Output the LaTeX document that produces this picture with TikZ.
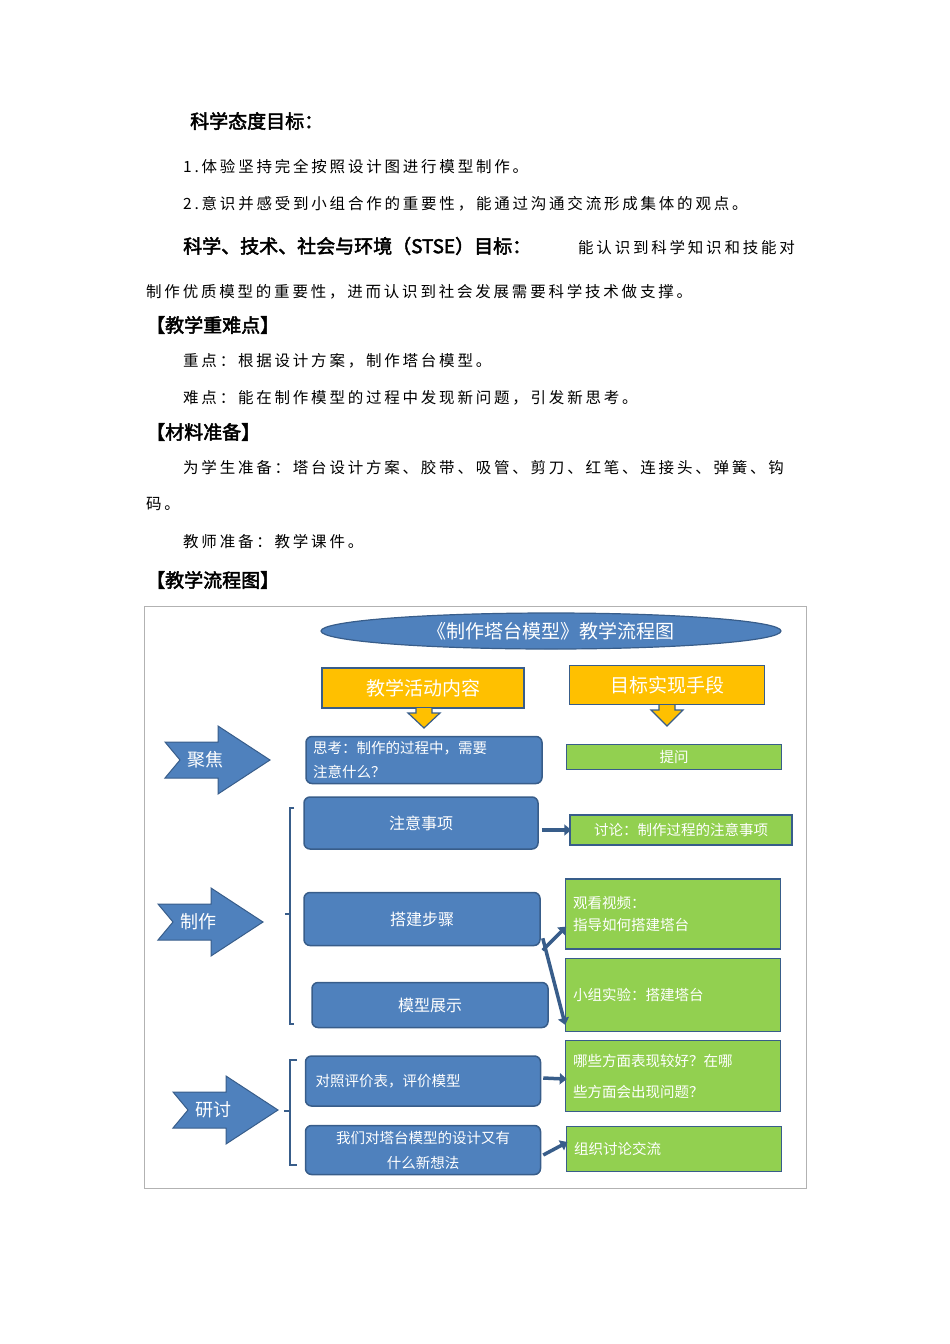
\documentclass[tikz,border=0pt]{standalone}
\usepackage{fontspec}
\setmainfont{Noto Sans CJK SC}[AutoFakeBold=2]
\newfontfamily\bodyf{Noto Sans CJK SC}[LetterSpace=18]
\newfontfamily\headf{Noto Sans CJK SC}[AutoFakeBold=2.5]
\usetikzlibrary{arrows.meta,shapes.geometric}
\definecolor{bblue}{HTML}{4F81BD}
\definecolor{bedge}{HTML}{385D8A}
\definecolor{gfill}{HTML}{92D050}
\definecolor{yfill}{HTML}{FFC000}
\tikzset{
 body/.style={anchor=west,inner sep=0pt,font=\fontsize{15.5}{18}\bodyf},
 head/.style={anchor=west,inner sep=0pt,font=\fontsize{19}{22}\headf\bfseries},
 bbox/.style={draw=bedge,line width=1.5pt,fill=bblue,rounded corners=6pt,text=white,font=\fontsize{16}{22}\selectfont},
 gbox/.style={draw=bedge,line width=1.5pt,fill=gfill,text=white,font=\fontsize{14.5}{20}\selectfont},
 ybox/.style={draw=bedge,line width=1.2pt,fill=yfill,text=white,font=\fontsize{19}{22}\selectfont},
 bigarr/.style={draw=bedge,line width=1pt,fill=bblue},
 smarr/.style={draw=bedge,line width=3.5pt,-{Triangle[length=7pt,width=11pt]},shorten >=-2pt},
 brack/.style={draw=bedge,line width=1.2pt},
 alabel/.style={text=white,font=\fontsize{18}{20}\selectfont}
}
\newcommand{\bigarrow}[3]{%
 \path[bigarr] (#1-50,#2-18) -- (#1-35,#2) -- (#1-50,#2+18) -- (#1+3,#2+18) -- (#1+3,#2+34) -- (#1+55,#2) -- (#1+3,#2-34) -- (#1+3,#2-18) -- cycle;
 \node[alabel] (#3) at (#1-10,#2) {#3};}
\begin{document}
\begin{tikzpicture}[x=1pt,y=-1pt]
\useasboundingbox (0,0) rectangle (950,1344);
% text
\node[head] (h1) at (190,121) {科学态度目标：};
\node[body] (t1) at (183,167) {1.体验坚持完全按照设计图进行模型制作。};
\node[body] (t2) at (183,204) {2.意识并感受到小组合作的重要性，能通过沟通交流形成集体的观点。};
\node[head] (h2) at (183,246) {科学、技术、社会与环境（STSE）目标：};
\node[body] (t3) at (578,248) {能认识到科学知识和技能对};
\node[body] (t4) at (146,292) {制作优质模型的重要性，进而认识到社会发展需要科学技术做支撑。};
\node[head] (h3) at (146,325) {【教学重难点】};
\node[body] (t5) at (183,361) {重点：根据设计方案，制作塔台模型。};
\node[body] (t6) at (183,398) {难点：能在制作模型的过程中发现新问题，引发新思考。};
\node[head] (h4) at (146,432) {【材料准备】};
\node[body] (t7) at (183,468) {为学生准备：塔台设计方案、胶带、吸管、剪刀、红笔、连接头、弹簧、钩};
\node[body] (t8) at (146,504) {码。};
\node[body] (t9) at (183,542) {教师准备：教学课件。};
\node[head] (h5) at (146,580) {【教学流程图】};
% frame
\draw[gray!60,line width=0.8pt] (144,606) rectangle (806,1188);
% title ellipse
\node[ellipse,draw=bedge,line width=1.2pt,fill=bblue,minimum width=460,minimum height=36,inner sep=0,text=white,font=\fontsize{19}{22}\selectfont] (title) at (551,631) {《制作塔台模型》教学流程图};
% yellow
\node[ybox,minimum width=202,minimum height=40] (y1) at (423,688) {教学活动内容};
\node[ybox,minimum width=195,minimum height=39] (y2) at (667,685) {目标实现手段};
\path[draw=bedge,line width=1.2pt,fill=yfill] (416,708) -- (416,713) -- (408,713) -- (424,728) -- (440,713) -- (432,713) -- (432,708);
\path[draw=bedge,line width=1.2pt,fill=yfill] (659,705) -- (659,710) -- (651,710) -- (667,726) -- (683,710) -- (675,710) -- (675,705);
% big arrows
\bigarrow{215}{760}{聚焦}
\bigarrow{208}{922}{制作}
\bigarrow{223}{1110}{研讨}
% blue boxes
\node[bbox,minimum width=236,minimum height=47,align=left,text width=222,font=\fontsize{14.5}{24}\selectfont] (b1) at (424,760) {思考：制作的过程中，需要\\注意什么？};
\node[bbox,minimum width=234,minimum height=52] (b2) at (421,823) {注意事项};
\node[bbox,minimum width=236,minimum height=53] (b3) at (422,919) {搭建步骤};
\node[bbox,minimum width=236,minimum height=45] (b4) at (430,1005) {模型展示};
\node[bbox,minimum width=235,minimum height=50,align=left,text width=215,font=\fontsize{14.5}{20}\selectfont] (b5) at (423,1081) {对照评价表，评价模型};
\node[bbox,minimum width=235,minimum height=49,align=center,font=\fontsize{14.5}{25}\selectfont] (b6) at (423,1150) {我们对塔台模型的设计又有\\什么新想法};
% green boxes
\node[gbox,minimum width=215,minimum height=25] (g1) at (674,757) {提问};
\node[gbox,minimum width=222,minimum height=30] (g2) at (681,830) {讨论：制作过程的注意事项};
\node[gbox,minimum width=215,minimum height=70,align=left,text width=200,font=\fontsize{14.5}{22}\selectfont] (g3) at (673,914) {观看视频：\\指导如何搭建塔台};
\node[gbox,minimum width=215,minimum height=73,align=left,text width=200] (g4) at (673,995) {小组实验：搭建塔台};
\node[gbox,minimum width=215,minimum height=71,align=left,text width=200,font=\fontsize{14.5}{31}\selectfont] (g5) at (673,1076) {哪些方面表现较好？在哪\\些方面会出现问题？};
\node[gbox,minimum width=215,minimum height=45,align=left,text width=200] (g6) at (674,1149) {组织讨论交流};
% small arrows
\draw[smarr] (b2.east |- g2.west) ++(3,0) coordinate (s2) -- (g2.west);
\draw[smarr] ([xshift=2pt,yshift=-4pt]b3.south east) -- ([yshift=-14pt]g3.west);
\draw[smarr] ([xshift=2pt,yshift=8pt]b3.south east) -- ([yshift=-28pt]g4.west);
\draw[smarr] ([xshift=2pt,yshift=3pt]b5.east) -- ([yshift=-3pt]g5.west);
\draw[smarr] ([xshift=2pt,yshift=-5pt]b6.east) -- ([yshift=6pt]g6.west);
% brackets
\draw[brack] (294,808) -- (290,808) -- (290,1024) -- (294,1024);
\draw[brack] (290,914) -- (285,914);
\draw[brack] (297,1060) -- (290,1060) -- (290,1165) -- (297,1165);
\draw[brack] (290,1111) -- (284,1111);
\end{tikzpicture}
\end{document}
